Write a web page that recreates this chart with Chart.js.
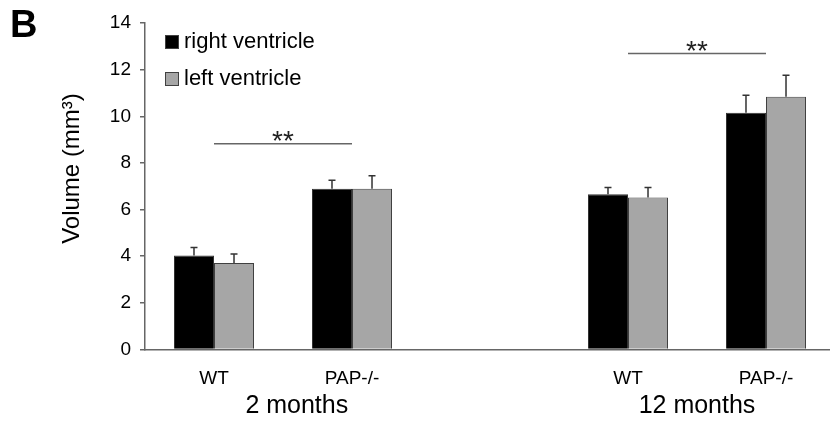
<!DOCTYPE html>
<html>
<head>
<meta charset="utf-8">
<script src="https://cdn.jsdelivr.net/npm/chart.js@4"></script>
<style>
  html, body { margin: 0; padding: 0; background: #fff; overflow: hidden; }
  #wrap { width: 830px; height: 421px; overflow: hidden; }
</style>
</head>
<body>
<div id="wrap"><canvas id="chart" width="835" height="421"></canvas></div>
<script>
// values
const categories = ['WT', 'PAP-/-', '', 'WT', 'PAP-/-'];
const rightVentricle = [4.03, 6.89, null, 6.66, 10.15];
const rightVentricleErr = [0.34, 0.37, null, 0.29, 0.75];
const leftVentricle = [3.71, 6.89, null, 6.52, 10.84];
const leftVentricleErr = [0.38, 0.56, null, 0.43, 0.92];

const groupLabels = ['2 months', '12 months'];
const groupLabelAt = [0.6, 3.5];

// significance brackets: from category, to category, height, mark
const sigFrom = [0, 3];
const sigTo = [1, 4];
const sigLevel = [8.82, 12.69];
const sigMark = ['**', '**'];

const yMin = 0, yMax = 14, yStep = 2;
const yTitle = 'Volume (mm³)';
const panelLetter = 'B';

const FONT = '"Liberation Sans", Arial, sans-serif';
const AXIS = '#666';

const errors = [rightVentricleErr, leftVentricleErr];

const errorBars = {
    id: 'errorBars',
    afterDatasetsDraw(chart) {
        const ctx = chart.ctx;
        const y = chart.scales.y;
        ctx.save();
        ctx.strokeStyle = '#333';
        ctx.lineWidth = 1.5;
        chart.data.datasets.forEach((ds, i) => {
            chart.getDatasetMeta(i).data.forEach((bar, j) => {
                const v = ds.data[j];
                const e = errors[i][j];
                if (v == null || e == null) return;
                const top = y.getPixelForValue(v + e);
                ctx.beginPath();
                ctx.moveTo(bar.x, bar.y);
                ctx.lineTo(bar.x, top);
                ctx.moveTo(bar.x - 3.5, top);
                ctx.lineTo(bar.x + 3.5, top);
                ctx.stroke();
            });
        });
        ctx.restore();
    }
};

const extras = {
    id: 'extras',
    afterDraw(chart) {
        const ctx = chart.ctx;
        const x = chart.scales.x;
        const y = chart.scales.y;
        ctx.save();

        // significance lines and stars
        for (let i = 0; i < sigFrom.length; i++) {
            const x1 = x.getPixelForValue(sigFrom[i]);
            const x2 = x.getPixelForValue(sigTo[i]);
            const yy = y.getPixelForValue(sigLevel[i]);
            ctx.strokeStyle = AXIS;
            ctx.lineWidth = 1.5;
            ctx.beginPath();
            ctx.moveTo(x1, yy);
            ctx.lineTo(x2, yy);
            ctx.stroke();
            ctx.fillStyle = '#222';
            ctx.font = '28px ' + FONT;
            ctx.textAlign = 'center';
            ctx.textBaseline = 'alphabetic';
            ctx.fillText(sigMark[i], (x1 + x2) / 2, yy + 6);
        }

        // group labels under the categories
        ctx.fillStyle = '#000';
        ctx.font = '25px ' + FONT;
        ctx.textAlign = 'center';
        ctx.textBaseline = 'alphabetic';
        groupLabels.forEach((t, i) => {
            ctx.fillText(t, x.getPixelForValue(groupLabelAt[i]), 413);
        });

        // legend
        chart.data.datasets.forEach((ds, i) => {
            const ly = 42 + i * 37;
            ctx.fillStyle = ds.backgroundColor;
            ctx.fillRect(165, ly - 7, 14, 14);
            ctx.strokeStyle = '#404040';
            ctx.lineWidth = 1;
            ctx.strokeRect(165.5, ly - 6.5, 13, 13);
            ctx.fillStyle = '#000';
            ctx.font = '22px ' + FONT;
            ctx.textAlign = 'left';
            ctx.textBaseline = 'middle';
            ctx.fillText(ds.label, 184, ly);
        });

        // y axis title
        ctx.save();
        ctx.translate(79, 168.5);
        ctx.rotate(-Math.PI / 2);
        ctx.font = '24px ' + FONT;
        ctx.textAlign = 'center';
        ctx.textBaseline = 'alphabetic';
        ctx.fillText(yTitle, 0, 0);
        ctx.restore();

        // panel letter
        ctx.font = 'bold 38px ' + FONT;
        ctx.textAlign = 'left';
        ctx.textBaseline = 'alphabetic';
        ctx.fillText(panelLetter, 10, 37);

        ctx.restore();
    }
};

const chart = new Chart(document.getElementById('chart').getContext('2d'), {
    type: 'bar',
    data: {
        labels: categories,
        datasets: [{
            label: 'right ventricle',
            data: rightVentricle,
            backgroundColor: '#000000',
            borderColor: '#333333',
            borderWidth: 1
        }, {
            label: 'left ventricle',
            data: leftVentricle,
            backgroundColor: '#a6a6a6',
            borderColor: '#404040',
            borderWidth: 1
        }]
    },
    options: {
        responsive: false,
        animation: false,
        devicePixelRatio: 1,
        layout: { padding: { top: 23, right: 0, left: 0, bottom: 0 } },
        categoryPercentage: 0.58,
        barPercentage: 1,
        plugins: {
            legend: { display: false },
            tooltip: { enabled: false }
        },
        scales: {
            x: {
                grid: { display: false },
                border: { display: true, color: AXIS, width: 1.5 },
                ticks: { color: '#000', font: { family: FONT, size: 19 }, padding: 10 },
                afterFit(scale) { scale.height = 71.5; }
            },
            y: {
                min: yMin,
                max: yMax,
                grid: { drawOnChartArea: false, drawTicks: true, tickLength: 5, color: AXIS, lineWidth: 1.5 },
                border: { display: true, color: AXIS, width: 1.5 },
                ticks: { stepSize: yStep, color: '#000', font: { family: FONT, size: 19 }, padding: 9 },
                afterFit(scale) { scale.width = 145; }
            }
        }
    },
    plugins: [errorBars, extras]
});
</script>
</body>
</html>
